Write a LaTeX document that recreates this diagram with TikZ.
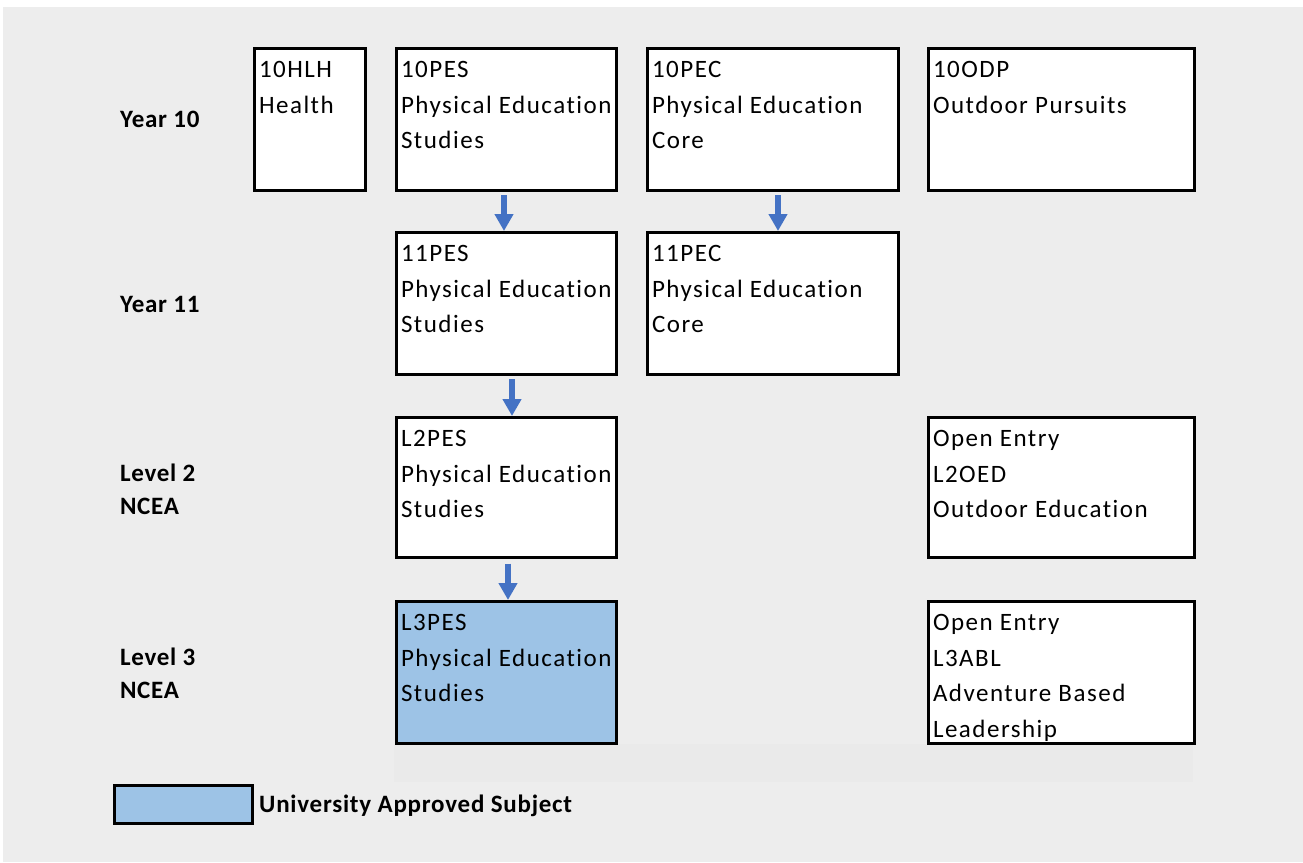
\documentclass[tikz,border=0pt]{standalone}
\usepackage{fontspec}
\setmainfont{Carlito}
\newfontfamily\boxfont[LetterSpace=6,Ligatures={NoCommon}]{Carlito}
\newfontfamily\lblfont[LetterSpace=3,Ligatures={NoCommon}]{Carlito}
\usetikzlibrary{arrows.meta}
\definecolor{bggray}{HTML}{EDEDED}
\definecolor{bgband}{HTML}{EAEAEA}
\definecolor{uniblue}{HTML}{9DC3E6}
\definecolor{arrblue}{HTML}{4472C4}
\tikzset{
  course/.style={draw=black, line width=3pt, fill=white, rectangle, inner sep=0pt, outer sep=0pt, minimum height=142pt},
  uni/.style={course, fill=uniblue},
  boxtext/.style={anchor=north west, inner sep=0pt, outer sep=0pt, align=left, font=\boxfont\fontsize{25}{35.5}\selectfont},
  rowlabel/.style={anchor=north west, inner sep=0pt, outer sep=0pt, align=left, font=\lblfont\bfseries\fontsize{25}{33}\selectfont},
  arr/.style={draw=arrblue, line width=6pt, -{Triangle[width=18pt,length=17pt]}, arrblue}
}
\begin{document}
\begin{tikzpicture}[x=1pt,y=-1pt]
\useasboundingbox (0,0) rectangle (1303,862);
\fill[white] (0,0) rectangle (1303,862);
\fill[bggray] (3,7) rectangle (1303,862);
\fill[bgband] (394,744) rectangle (1193,782);

% Year 10
\node[course, minimum width=111pt] (hlh) at (310,119.5) {};
\node[course, minimum width=220pt] (pes10) at (506.5,119.5) {};
\node[course, minimum width=251pt] (pec10) at (773,119.5) {};
\node[course, minimum width=266pt] (odp) at (1061.5,119.5) {};
% Year 11
\node[course, minimum width=220pt] (pes11) at (506.5,303.5) {};
\node[course, minimum width=251pt] (pec11) at (773,303.5) {};
% Level 2
\node[course, minimum width=220pt, minimum height=140pt] (pes2) at (506.5,487.5) {};
\node[course, minimum width=266pt, minimum height=140pt] (oed) at (1061.5,487.5) {};
% Level 3
\node[uni, minimum width=220pt] (pes3) at (506.5,672.5) {};
\node[course, minimum width=266pt] (abl) at (1061.5,672.5) {};

% texts
\node[boxtext] (thlh) at ([shift={(4.5,4.5)}]hlh.north west) {\strut 10HLH\\Health};
\node[boxtext] (tpes10) at ([shift={(4.5,4.5)}]pes10.north west) {\strut 10PES\\Physical Education\\Studies};
\node[boxtext] (tpec10) at ([shift={(4.5,4.5)}]pec10.north west) {\strut 10PEC\\Physical Education\\Core};
\node[boxtext] (todp) at ([shift={(4.5,4.5)}]odp.north west) {\strut 10ODP\\Outdoor Pursuits};
\node[boxtext] (tpes11) at ([shift={(4.5,4.5)}]pes11.north west) {\strut 11PES\\Physical Education\\Studies};
\node[boxtext] (tpec11) at ([shift={(4.5,4.5)}]pec11.north west) {\strut 11PEC\\Physical Education\\Core};
\node[boxtext] (tpes2) at ([shift={(4.5,4.5)}]pes2.north west) {\strut L2PES\\Physical Education\\Studies};
\node[boxtext] (toed) at ([shift={(4.5,4.5)}]oed.north west) {\strut Open Entry\\L2OED\\Outdoor Education};
\node[boxtext] (tpes3) at ([shift={(4.5,4.5)}]pes3.north west) {\strut L3PES\\Physical Education\\Studies};
\node[boxtext] (tabl) at ([shift={(4.5,4.5)}]abl.north west) {\strut Open Entry\\L3ABL\\Adventure Based\\Leadership};

% row labels
\node[rowlabel] (y10) at (120,103.9) {\strut Year 10};
\node[rowlabel] (y11) at (120,288.9) {\strut Year 11};
\node[rowlabel] (l2) at (120,457.9) {\strut Level 2\\NCEA};
\node[rowlabel] (l3) at (120,641.9) {\strut Level 3\\NCEA};

% arrows
\draw[arr] ([shift={(-2.5,4.5)}]pes10.south) -- ([shift={(-2.5,-1.5)}]pes11.north);
\draw[arr] ([shift={(5,4.5)}]pec10.south) -- ([shift={(5,-1.5)}]pec11.north);
\draw[arr] ([shift={(5.5,4.5)}]pes11.south) -- ([shift={(5.5,-1.5)}]pes2.north);
\draw[arr] ([shift={(1.5,6)}]pes2.south) -- ([shift={(1.5,-1.5)}]pes3.north);

% legend
\node[draw=black, line width=3pt, fill=uniblue, inner sep=0pt, outer sep=0pt, minimum width=138pt, minimum height=38pt] (legbox) at (183.5,804.5) {};
\node[anchor=base west, inner sep=0pt, font=\lblfont\bfseries\fontsize{25}{30}\selectfont] (legtext) at (259,812) {University Approved Subject};
\end{tikzpicture}
\end{document}
